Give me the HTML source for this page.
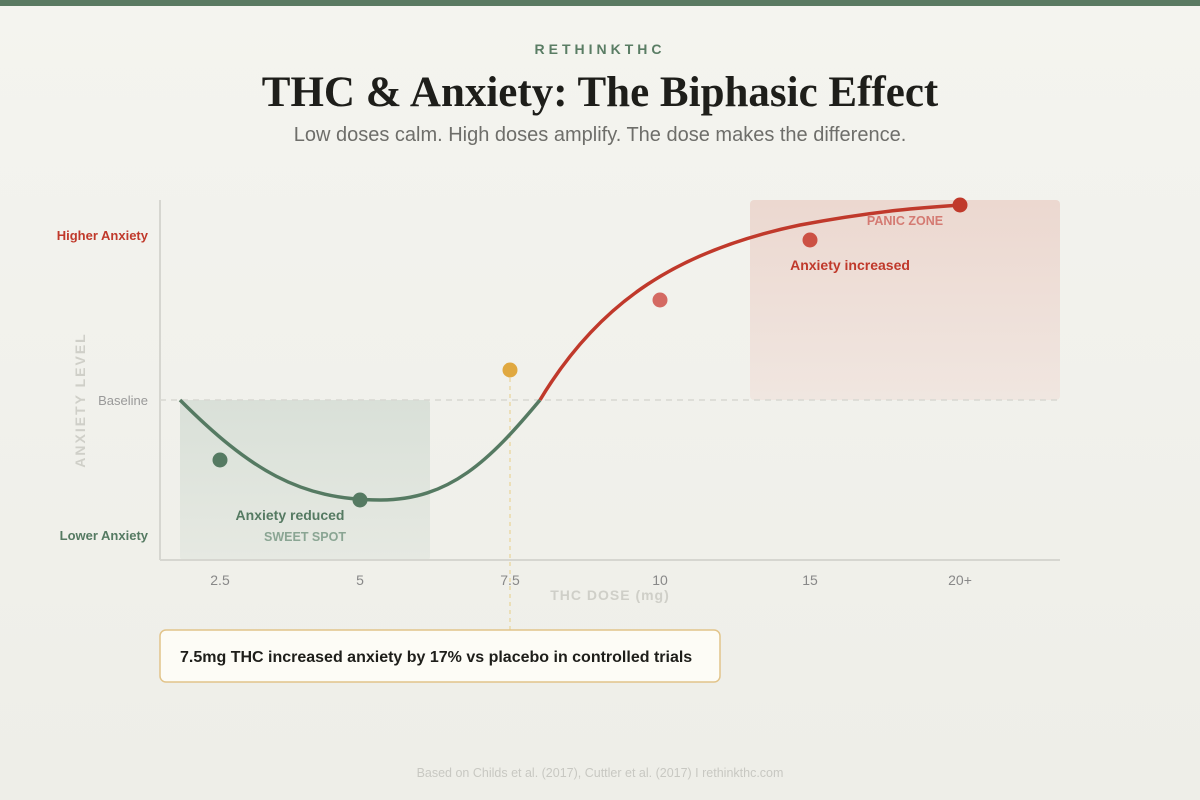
<!DOCTYPE html>
<html><head><meta charset="utf-8"><style>
html,body{margin:0;padding:0}
body{width:1200px;height:800px;background:linear-gradient(#f4f4ef,#eeeee8);font-family:"Liberation Sans",sans-serif;position:relative;overflow:hidden}
.bar{position:absolute;left:0;top:0;width:1200px;height:6px;background:#5a7a62}
.t{position:absolute;left:0;width:1200px;text-align:center}
</style></head><body>
<div class="bar"></div>
<div class="t" style="top:41px;font-size:14px;font-weight:bold;letter-spacing:4px;color:#5a7d64">RETHINKTHC</div>
<div class="t" style="top:68px;font-family:'Liberation Serif',serif;font-weight:bold;font-size:43px;color:#1e1e1a">THC &amp; Anxiety: The Biphasic Effect</div>
<div class="t" style="top:124px;font-size:20px;color:#6e6e6a">Low doses calm. High doses amplify. The dose makes the difference.</div>
<svg width="1200" height="800" style="position:absolute;left:0;top:0" font-family="Liberation Sans, sans-serif">
<defs>
<linearGradient id="g1" x1="0" y1="0" x2="0" y2="1"><stop offset="0" stop-color="#d9e0d8"/><stop offset="1" stop-color="#e6e9e2"/></linearGradient>
<linearGradient id="g2" x1="0" y1="0" x2="0" y2="1"><stop offset="0" stop-color="#ecd8d0"/><stop offset="1" stop-color="#f0e6e0"/></linearGradient>
</defs>
<rect x="180" y="400" width="250" height="160" rx="3" fill="url(#g1)"/>
<rect x="750" y="200" width="310" height="200" rx="4" fill="url(#g2)"/>
<line x1="160" y1="200" x2="160" y2="560" stroke="#d6d6d0" stroke-width="2"/>
<line x1="160" y1="560" x2="1060" y2="560" stroke="#d6d6d0" stroke-width="2"/>
<line x1="160" y1="400" x2="1060" y2="400" stroke="#d8d8d2" stroke-width="1.5" stroke-dasharray="6,5"/>
<line x1="510" y1="370" x2="510" y2="636" stroke="#ead9a8" stroke-width="1.5" stroke-dasharray="4,4"/>
<path d="M180,400 C250,470 300,500 380,500 C450,500 490,460 540,400" fill="none" stroke="#557a62" stroke-width="3.5"/>
<path d="M540,400 C600,300 680,250 800,225 C880,210 930,207 960,205" fill="none" stroke="#c0392b" stroke-width="3.5"/>
<circle cx="220" cy="460" r="7.5" fill="#557a62"/>
<circle cx="360" cy="500" r="7.5" fill="#557a62"/>
<circle cx="510" cy="370" r="7.5" fill="#e0a840"/>
<circle cx="660" cy="300" r="7.5" fill="#d46a62"/>
<circle cx="810" cy="240" r="7.5" fill="#cc5144"/>
<circle cx="960" cy="205" r="7.5" fill="#c0392b"/>
<g font-size="13" font-weight="bold" text-anchor="end">
<text x="148" y="240" fill="#c0392b">Higher Anxiety</text>
<text x="148" y="540" fill="#557a62">Lower Anxiety</text>
</g>
<text x="148" y="405" font-size="13" fill="#999" text-anchor="end">Baseline</text>
<text transform="translate(80,400) rotate(-90)" font-size="14" font-weight="bold" fill="#cfcfc8" letter-spacing="2" text-anchor="middle" dy="5">ANXIETY LEVEL</text>
<g font-size="14" fill="#888" text-anchor="middle">
<text x="220" y="585">2.5</text><text x="360" y="585">5</text><text x="510" y="585">7.5</text>
<text x="660" y="585">10</text><text x="810" y="585">15</text><text x="960" y="585">20+</text>
</g>
<text x="610" y="600" font-size="14" font-weight="bold" fill="#cfcfc8" letter-spacing="1" text-anchor="middle">THC DOSE (mg)</text>
<text x="290" y="520" font-size="14" font-weight="bold" fill="#557a62" text-anchor="middle">Anxiety reduced</text>
<text x="305" y="541" font-size="12.5" font-weight="bold" fill="#8aa593" text-anchor="middle">SWEET SPOT</text>
<text x="850" y="270" font-size="14" font-weight="bold" fill="#c0392b" text-anchor="middle">Anxiety increased</text>
<text x="905" y="225" font-size="12.5" font-weight="bold" fill="#d47a72" text-anchor="middle">PANIC ZONE</text>
<rect x="160" y="630" width="560" height="52" rx="6" fill="#fdfcf6" stroke="#e2c48a" stroke-width="1.5"/>
<text x="180" y="662" font-size="16" font-weight="bold" fill="#1e1e1a">7.5mg THC increased anxiety by 17% vs placebo in controlled trials</text>
<text x="600" y="777" font-size="12.5" fill="#c8c8c2" text-anchor="middle">Based on Childs et al. (2017), Cuttler et al. (2017) I rethinkthc.com</text>
</svg>
</body></html>
